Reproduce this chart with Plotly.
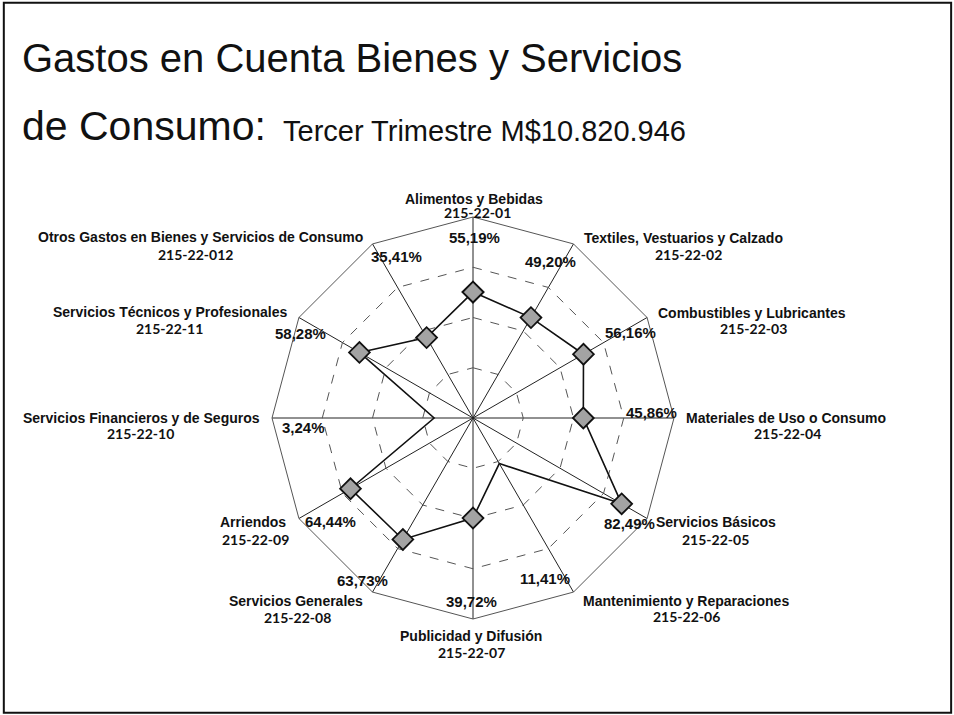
import plotly.graph_objects as go

W, H = 954, 715

# ── data ──────────────────────────────────────────────────────────────────────
CATEGORIES = [
    "Alimentos y Bebidas",
    "Textiles, Vestuarios y Calzado",
    "Combustibles y Lubricantes",
    "Materiales de Uso o Consumo",
    "Servicios Básicos",
    "Mantenimiento y Reparaciones",
    "Publicidad y Difusión",
    "Servicios Generales",
    "Arriendos",
    "Servicios Financieros y de Seguros",
    "Servicios Técnicos y Profesionales",
    "Otros Gastos en Bienes y Servicios de Consumo",
]
CODES = [
    "215-22-01", "215-22-02", "215-22-03", "215-22-04", "215-22-05", "215-22-06",
    "215-22-07", "215-22-08", "215-22-09", "215-22-10", "215-22-11", "215-22-012",
]
VALUES = [55.19, 49.20, 56.16, 45.86, 82.49, 11.41, 39.72, 63.73, 64.44, 3.24, 58.28, 35.41]
RING_VALUES = [10, 40, 70]
R_MIN, R_MAX = -20, 100

# ── label placement (pixel centres) ──────────────────────────────────────────
NAME_POS = [(474, 199), (683, 238), (752, 313), (786, 418), (716, 522), (686, 601),
            (471, 636), (296, 601), (253, 522), (141, 418), (170, 312), (200, 237)]
CODE_POS = [(477, 213), (688, 254), (753, 328), (787, 433), (715, 539), (686, 616),
            (471, 652), (297, 617), (255, 539), (140, 433), (169, 328), (195, 254)]
PCT_POS = [(474, 237), (550, 261), (630, 332), (651, 412), (629, 523), (545, 578),
           (471, 601), (362, 580), (330, 521), (303, 427), (300, 333), (396, 256)]

CX, CY, R = 473, 418, 201
LABEL_FONT = "Liberation Sans, Arial, sans-serif"
CODE_FONT = "Lato, Liberation Sans, sans-serif"
TITLE_FONT = "Liberation Sans, Arial, sans-serif"


def px(x, y):
    return x / W, 1 - y / H


fig = go.Figure()

# dashed inner rings, drawn as closed polygons on the polar axes
for ring in RING_VALUES:
    fig.add_trace(go.Scatterpolar(
        r=[ring] * (len(CATEGORIES) + 1),
        theta=CATEGORIES + CATEGORIES[:1],
        mode="lines",
        line=dict(color="#555555", width=1, dash="dash"),
        hoverinfo="skip",
        showlegend=False,
    ))

fig.add_trace(go.Scatterpolar(
    r=VALUES + VALUES[:1],
    theta=CATEGORIES + CATEGORIES[:1],
    mode="lines+markers",
    line=dict(color="#111111", width=1.6),
    marker=dict(symbol="diamond", size=16, color="#a3a3a3",
                line=dict(color="#111111", width=1.8)),
    hoverinfo="skip",
    showlegend=False,
))

annotations = []
for i, cat in enumerate(CATEGORIES):
    x, y = px(*NAME_POS[i])
    annotations.append(dict(x=x, y=y, text=cat, showarrow=False, xanchor="center", yanchor="middle",
                            font=dict(family=LABEL_FONT, size=14, color="#111111", weight="bold")))
    x, y = px(*CODE_POS[i])
    annotations.append(dict(x=x, y=y, text=CODES[i], showarrow=False, xanchor="center", yanchor="middle",
                            font=dict(family=CODE_FONT, size=14, color="#111111", weight="bold")))
    x, y = px(*PCT_POS[i])
    pct = f"{VALUES[i]:.2f}".replace(".", ",") + "%"
    annotations.append(dict(x=x, y=y, text=pct, showarrow=False, xanchor="center", yanchor="middle",
                            font=dict(family=LABEL_FONT, size=15, color="#111111", weight="bold")))

# title
x, y = px(20, 58)
annotations.append(dict(x=x, y=y, text="Gastos en Cuenta Bienes y Servicios", showarrow=False,
                        xanchor="left", yanchor="middle",
                        font=dict(family=TITLE_FONT, size=40, color="#111111")))
x, y = px(20, 126)
annotations.append(dict(x=x, y=y, text="de Consumo:", showarrow=False,
                        xanchor="left", yanchor="middle",
                        font=dict(family=TITLE_FONT, size=41, color="#111111")))
x, y = px(281, 131)
annotations.append(dict(x=x, y=y, text="Tercer Trimestre M$10.820.946", showarrow=False,
                        xanchor="left", yanchor="middle",
                        font=dict(family=TITLE_FONT, size=29, color="#111111")))

fig.update_layout(
    width=W, height=H,
    margin=dict(l=0, r=0, t=0, b=0),
    paper_bgcolor="white",
    plot_bgcolor="white",
    polar=dict(
        domain=dict(x=[(CX - R) / W, (CX + R) / W], y=[1 - (CY + R) / H, 1 - (CY - R) / H]),
        bgcolor="white",
        gridshape="linear",
        angularaxis=dict(
            type="category",
            rotation=90, direction="clockwise",
            showticklabels=False, ticks="",
            showline=True, linecolor="#555555", linewidth=1,
            showgrid=True, gridcolor="#222222", gridwidth=1,
        ),
        radialaxis=dict(
            range=[R_MIN, R_MAX],
            showticklabels=False, ticks="", showline=False,
            showgrid=False,
        ),
    ),
    annotations=annotations,
    shapes=[dict(type="rect", xref="paper", yref="paper", x0=0.004, x1=0.997, y0=0.003, y1=0.996,
                 line=dict(color="#111111", width=2))],
)

fig.write_html("out.html", config={"displayModeBar": False},
               post_script="document.body.style.margin='0';")
